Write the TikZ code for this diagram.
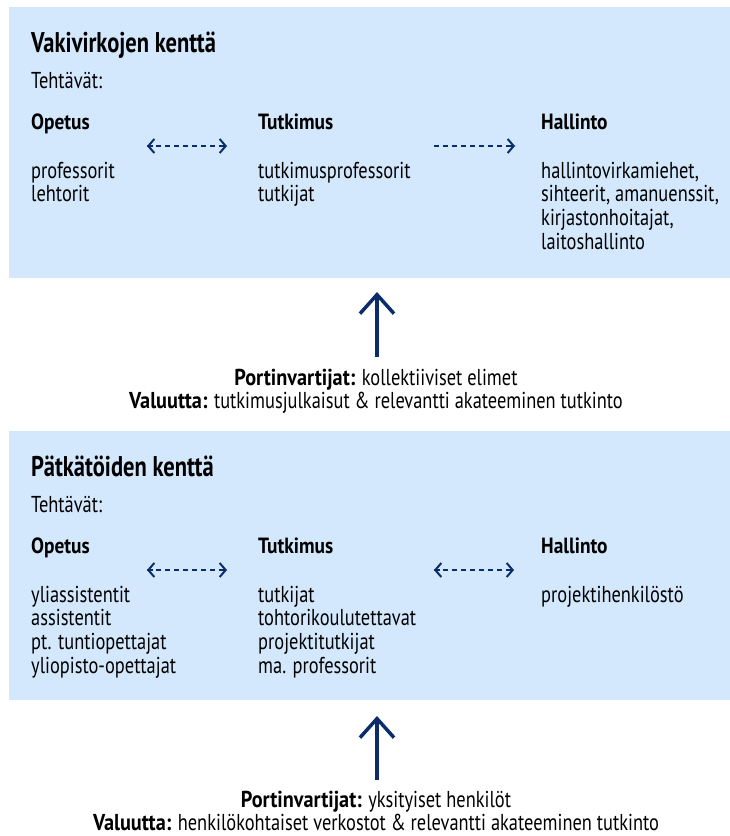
\documentclass[tikz,border=0pt]{standalone}
\usepackage{fontspec}
\setmainfont{PT Sans}[FakeStretch=0.8, BoldFeatures={FakeStretch=0.88}]
\newfontfamily\ttlfont{PT Sans}[FakeStretch=0.79]
\usetikzlibrary{arrows.meta}
\definecolor{boxblue}{HTML}{D3E8FC}
\definecolor{navy}{HTML}{0B2C6B}
\begin{document}
\begin{tikzpicture}[x=1pt,y=-1pt,
  txt/.style={anchor=base west,inner sep=0pt,align=left,font=\fontsize{23}{23.7}\selectfont},
  hdr/.style={anchor=base west,inner sep=0pt,font=\fontsize{22}{24}\selectfont\bfseries},
  ttl/.style={anchor=base west,inner sep=0pt,font=\ttlfont\fontsize{28.5}{30}\selectfont\bfseries},
  lbl/.style={anchor=base,inner sep=0pt,font=\fontsize{23}{23.7}\selectfont},
  dasharrow/.style={navy,line width=1.8pt,dash pattern=on 5pt off 4pt},
  tipr/.style={navy,line width=2pt,-{Straight Barb[length=6pt,width=14pt]}},
  bigarrow/.style={navy,line width=3.5pt,-{Straight Barb[length=19pt,width=34pt,line width=3.5pt]}}]
\useasboundingbox (0,0) rectangle (730,836);
% boxes
\fill[boxblue] (9,7) rectangle (730,278);
\fill[boxblue] (9,431) rectangle (730,700);
% ---------- top box
\node[ttl] (t1) at (31,52) {Vakivirkojen kenttä};
\node[txt] (teh1) at (31,88) {Tehtävät:};
\node[hdr] (op1) at (31,129.5) {Opetus};
\node[hdr] (tu1) at (258,129.5) {Tutkimus};
\node[hdr] (ha1) at (541,129.5) {Hallinto};
\node[txt] (opl1) at (31,201.7) {professorit\\lehtorit};
\node[txt] (tul1) at (258,201.7) {tutkimusprofessorit\\tutkijat};
\node[txt] (hal1) at (541,249.1) {hallintovirkamiehet,\\sihteerit, amanuenssit,\\kirjastonhoitajat,\\laitoshallinto};
\coordinate (a1l) at (147,146);
\coordinate (a1r) at (227,146);
\coordinate (a2l) at (434,146);
\coordinate (a2r) at (515,146);
\draw[dasharrow] (a1l) -- (a1r);
\draw[tipr] ([xshift=-6pt]a1r) -- (a1r);
\draw[tipr] ([xshift=6pt]a1l) -- (a1l);
\draw[dasharrow] (a2l) -- (a2r);
\draw[tipr] ([xshift=-6pt]a2r) -- (a2r);
% big arrow 1
\coordinate (b1s) at (377,357);
\coordinate (b1e) at (377,292);
\draw[bigarrow] (b1s) -- (b1e);
\node[lbl] (p1) at (376,385) {\textbf{Portinvartijat:} kollektiiviset elimet};
\node[lbl] (v1) at (376,408.5) {\textbf{Valuutta:} tutkimusjulkaisut \& relevantti akateeminen tutkinto};
% ---------- bottom box
\node[ttl] (t2) at (31,476) {Pätkätöiden kenttä};
\node[txt] (teh2) at (31,512) {Tehtävät:};
\node[hdr] (op2) at (31,553.5) {Opetus};
\node[hdr] (tu2) at (258,553.5) {Tutkimus};
\node[hdr] (ha2) at (541,553.5) {Hallinto};
\node[txt] (opl2) at (31,673.1) {yliassistentit\\assistentit\\pt. tuntiopettajat\\yliopisto-opettajat};
\node[txt] (tul2) at (258,673.1) {tutkijat\\tohtorikoulutettavat\\projektitutkijat\\ma. professorit};
\node[txt] (hal2) at (541,602) {projektihenkilöstö};
\coordinate (c1l) at (147,570);
\coordinate (c1r) at (227,570);
\coordinate (c2l) at (434,570);
\coordinate (c2r) at (514,570);
\draw[dasharrow] (c1l) -- (c1r);
\draw[tipr] ([xshift=-6pt]c1r) -- (c1r);
\draw[tipr] ([xshift=6pt]c1l) -- (c1l);
\draw[dasharrow] (c2l) -- (c2r);
\draw[tipr] ([xshift=-6pt]c2r) -- (c2r);
\draw[tipr] ([xshift=6pt]c2l) -- (c2l);
% big arrow 2
\coordinate (b2s) at (377,780);
\coordinate (b2e) at (377,716);
\draw[bigarrow] (b2s) -- (b2e);
\node[lbl] (p2) at (376,807.5) {\textbf{Portinvartijat:} yksityiset henkilöt};
\node[lbl] (v2) at (376,830.5) {\textbf{Valuutta:} henkilökohtaiset verkostot \& relevantti akateeminen tutkinto};
\end{tikzpicture}
\end{document}
